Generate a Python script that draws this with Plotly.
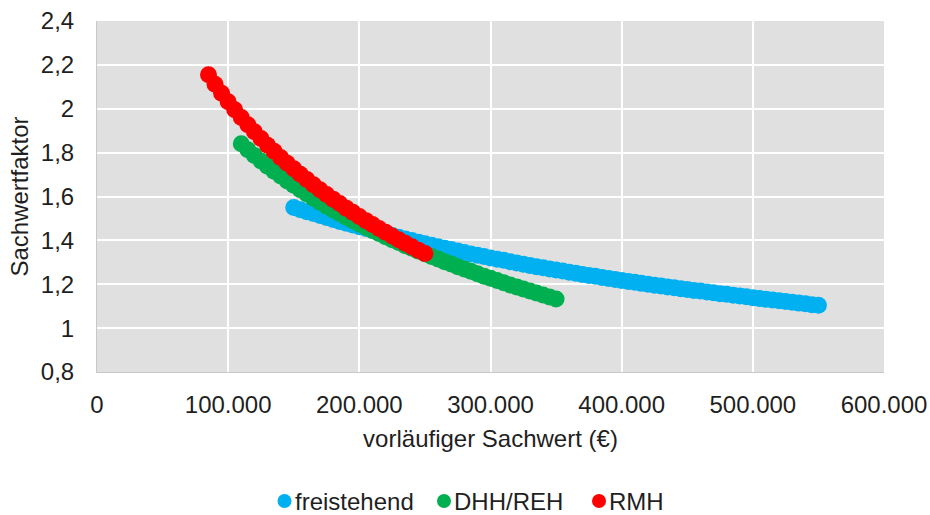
import plotly.graph_objects as go

# Sachwertfaktor vs. vorläufiger Sachwert for three building types
x_freistehend = list(range(150000, 550001, 5000))
y_freistehend = [
    1.550, 1.540, 1.531, 1.522, 1.513, 1.504, 1.495, 1.486, 1.478, 1.470,
    1.462, 1.454, 1.446, 1.438, 1.430, 1.422, 1.414, 1.406, 1.399, 1.392,
    1.385, 1.378, 1.371, 1.364, 1.358, 1.351, 1.345, 1.338, 1.332, 1.326,
    1.320, 1.314, 1.309, 1.303, 1.297, 1.291, 1.286, 1.280, 1.275, 1.270,
    1.265, 1.260, 1.255, 1.250, 1.245, 1.240, 1.236, 1.231, 1.226, 1.222,
    1.217, 1.213, 1.209, 1.204, 1.200, 1.196, 1.192, 1.188, 1.184, 1.180,
    1.176, 1.172, 1.169, 1.165, 1.161, 1.157, 1.154, 1.150, 1.146, 1.143,
    1.139, 1.135, 1.132, 1.128, 1.125, 1.121, 1.118, 1.114, 1.111, 1.107,
    1.104,
]

x_dhh_reh = list(range(110000, 350001, 5000))
y_dhh_reh = [
    1.840, 1.813, 1.787, 1.762, 1.738, 1.715, 1.693, 1.671, 1.651, 1.631,
    1.611, 1.592, 1.574, 1.556, 1.539, 1.523, 1.506, 1.490, 1.475, 1.460,
    1.445, 1.431, 1.417, 1.403, 1.390, 1.376, 1.364, 1.351, 1.339, 1.327,
    1.315, 1.303, 1.292, 1.280, 1.269, 1.259, 1.248, 1.237, 1.227, 1.217,
    1.207, 1.197, 1.188, 1.178, 1.169, 1.160, 1.151, 1.142, 1.133,
]

x_rmh = list(range(85000, 250001, 5000))
y_rmh = [
    2.155, 2.112, 2.071, 2.032, 1.995, 1.960, 1.927, 1.895, 1.864, 1.834,
    1.806, 1.778, 1.752, 1.726, 1.701, 1.677, 1.654, 1.631, 1.609, 1.588,
    1.568, 1.547, 1.528, 1.509, 1.490, 1.472, 1.454, 1.437, 1.420, 1.403,
    1.387, 1.371, 1.355, 1.340,
]

series = [
    ("freistehend", x_freistehend, y_freistehend, "#00B0F0"),
    ("DHH/REH", x_dhh_reh, y_dhh_reh, "#00B050"),
    ("RMH", x_rmh, y_rmh, "#FF0000"),
]

x_ticks = [0, 100000, 200000, 300000, 400000, 500000, 600000]
x_tick_labels = ["0", "100.000", "200.000", "300.000", "400.000", "500.000", "600.000"]
y_ticks = [0.8, 1.0, 1.2, 1.4, 1.6, 1.8, 2.0, 2.2, 2.4]
y_tick_labels = ["0,8", "1", "1,2", "1,4", "1,6", "1,8", "2", "2,2", "2,4"]

FONT = "Liberation Sans, Arial, sans-serif"
TEXT = "#1F1F1F"
FS = 24

# plot area in pixels (used to place the legend row below it)
W, H = 930, 515
L, R, T, B = 97, 46, 21, 143
PW, PH = W - L - R, H - T - B


def px_to_paper_x(px):
    return (px - L) / PW


def px_to_paper_y(py):
    return (H - B - py) / PH


fig = go.Figure()
for name, xs, ys, color in series:
    fig.add_trace(go.Scatter(
        x=xs, y=ys, mode="markers", name=name, showlegend=False,
        marker=dict(size=17, color=color, line=dict(width=0)),
        hoverinfo="x+y",
    ))

# legend row: coloured dot followed by the series name
legend_y = px_to_paper_y(501)
dot_px = [284.5, 444, 599]
for (name, _, _, color), dpx in zip(series, dot_px):
    fig.add_shape(
        type="circle", xref="paper", yref="paper",
        xsizemode="pixel", ysizemode="pixel",
        xanchor=px_to_paper_x(dpx), yanchor=legend_y,
        x0=-7, x1=7, y0=-7, y1=7,
        fillcolor=color, line=dict(width=0),
    )
    fig.add_annotation(
        x=px_to_paper_x(dpx + 9), y=legend_y, xref="paper", yref="paper",
        text=name, showarrow=False, xanchor="left", yanchor="middle",
        borderpad=0, font=dict(size=FS, color=TEXT, family=FONT),
    )

fig.update_layout(
    width=W, height=H,
    margin=dict(l=L, r=R, t=T, b=B),
    paper_bgcolor="white",
    plot_bgcolor="#E0E0E0",
    font=dict(family=FONT, size=FS, color=TEXT),
    showlegend=False,
    xaxis=dict(
        range=[0, 600000], tickvals=x_ticks, ticktext=x_tick_labels,
        showgrid=True, gridcolor="white", gridwidth=2,
        zeroline=False, showline=True, linecolor="#C8C8C8", linewidth=1,
        ticks="", ticklabelstandoff=11, automargin=False,
        title=dict(text="vorläufiger Sachwert (€)", standoff=13,
                   font=dict(size=FS, color=TEXT)),
    ),
    yaxis=dict(
        range=[0.8, 2.4], tickvals=y_ticks, ticktext=y_tick_labels,
        showgrid=True, gridcolor="white", gridwidth=2,
        zeroline=False, showline=True, linecolor="#C8C8C8", linewidth=1,
        ticks="", ticklabelstandoff=17, automargin=False,
        title=dict(text="Sachwertfaktor", standoff=5,
                   font=dict(size=FS, color=TEXT)),
    ),
)

fig.write_html("out.html")
